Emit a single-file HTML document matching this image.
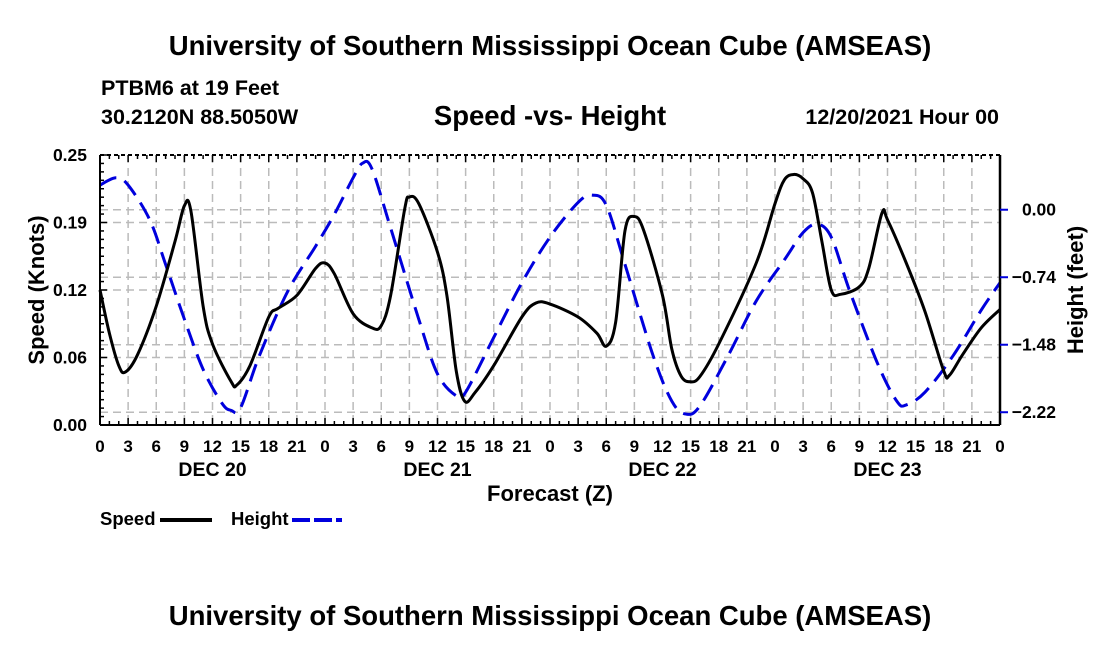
<!DOCTYPE html>
<html><head><meta charset="utf-8"><style>
body{margin:0;background:#fff;width:1100px;height:650px;overflow:hidden}
svg text{font-family:"Liberation Sans",Arial,sans-serif;font-weight:bold;fill:#000}
</style></head><body>
<svg id="c" width="1100" height="650">
<text x="550" y="55" font-size="27.5" text-anchor="middle">University of Southern Mississippi Ocean Cube (AMSEAS)</text>
<text x="101" y="95" font-size="21.5">PTBM6 at 19 Feet</text>
<text x="101" y="124" font-size="21.5">30.2120N  88.5050W</text>
<text x="550" y="125" font-size="27.5" text-anchor="middle">Speed -vs- Height</text>
<text x="999" y="124" font-size="21.5" text-anchor="end">12/20/2021 Hour 00</text>
<text x="550" y="625" font-size="27.5" text-anchor="middle">University of Southern Mississippi Ocean Cube (AMSEAS)</text>
<g id="plot"></g>
</svg>
<script>
const speedHours=[0,1,2,2.7,4,6,8,9,9.7,11,12,14,14.6,16,18,19,21,23,24,25,27,29,30,31,32.5,33,34,36,37,38,38.9,40,42,45,46.5,48,51,53,54,55,56,57,58,60,61,62,63,64,66,70,72,73,74,75,76,77,78,79,81,82,83.4,84,86,88,90,90.6,92,94,96];
const speedVals=[0.125,0.085,0.055,0.049,0.065,0.11,0.17,0.203,0.198,0.11,0.075,0.04,0.037,0.055,0.1,0.108,0.12,0.145,0.15,0.14,0.103,0.09,0.092,0.12,0.2,0.211,0.205,0.16,0.12,0.05,0.022,0.03,0.055,0.1,0.113,0.112,0.1,0.085,0.073,0.095,0.18,0.193,0.18,0.12,0.07,0.045,0.04,0.045,0.075,0.15,0.205,0.227,0.232,0.228,0.215,0.17,0.125,0.121,0.128,0.145,0.196,0.19,0.15,0.105,0.05,0.046,0.065,0.09,0.107];
const heightHours=[0,1.7,3,5.3,7,9,11,13,14,15,17,20,23,25,27,28,29,31,34,36,38,39,42,45,48,51,52.5,54,56,59,61,62.5,64,67,70,73,75,76.5,78,80,83,85,86,88,91,94,96];
const heightVals=[0.27,0.35,0.27,-0.11,-0.6,-1.2,-1.75,-2.12,-2.2,-2.17,-1.6,-0.9,-0.4,-0.05,0.35,0.51,0.45,-0.2,-1.2,-1.8,-2.04,-2.0,-1.4,-0.8,-0.3,0.08,0.16,0.05,-0.6,-1.6,-2.1,-2.24,-2.15,-1.6,-1.0,-0.55,-0.25,-0.16,-0.3,-0.9,-1.7,-2.1,-2.14,-2.0,-1.6,-1.1,-0.8];
const xTickLabels=["0","3","6","9","12","15","18","21"];
const dayLabels=["DEC 20","DEC 21","DEC 22","DEC 23"];
const speedTicks=[0,0.0625,0.125,0.1875,0.25];
const speedTickLabels=["0.00","0.06","0.12","0.19","0.25"];
const heightTicks=[0,-0.74,-1.48,-2.22];
const heightTickLabels=["0.00","-0.74","-1.48","-2.22"];

const X0=100,X1=1000,Y0=155,Y1=425;
const xs=h=>X0+h/96*(X1-X0);
const ys=v=>Y1-v/0.25*(Y1-Y0);
const yh=v=>Y0+(0.6-v)/2.96*(Y1-Y0);
const NS="http://www.w3.org/2000/svg";
const g=document.getElementById('plot');
function el(t,a,p){const e=document.createElementNS(NS,t);for(const k in a)e.setAttribute(k,a[k]);(p||g).appendChild(e);return e;}
const grid=el('g',{});


for(let h=3;h<96;h+=3){el('line',{x1:xs(h),x2:xs(h),y1:Y0,y2:Y1,stroke:'#bbb','stroke-width':1.5,'stroke-dasharray':'8,5'},grid);}
speedTicks.slice(1,4).forEach(v=>el('line',{x1:X0,x2:X1,y1:ys(v),y2:ys(v),stroke:'#bbb','stroke-width':1.5,'stroke-dasharray':'8,5'},grid));
heightTicks.forEach(v=>el('line',{x1:X0,x2:X1,y1:yh(v),y2:yh(v),stroke:'#bbb','stroke-width':1.5,'stroke-dasharray':'8,5'},grid));
function path(hs,vs,yf){const p=hs.map((h,i)=>[xs(h),yf(vs[i])]);let d='M'+p[0][0]+','+p[0][1];
for(let i=0;i<p.length-1;i++){const a=p[Math.max(0,i-1)],b=p[i],c=p[i+1],e=p[Math.min(p.length-1,i+2)];
d+=' C'+(b[0]+(c[0]-a[0])/6)+','+(b[1]+(c[1]-a[1])/6)+' '+(c[0]-(e[0]-b[0])/6)+','+(c[1]-(e[1]-b[1])/6)+' '+c[0]+','+c[1];}return d;}
const hl=el('path',{d:path(heightHours,heightVals,yh),fill:'none',stroke:'#0000dd','stroke-width':3,'stroke-dasharray':'18,9'});


const sl=el('path',{d:path(speedHours,speedVals,ys),fill:'none',stroke:'#000','stroke-width':3});


el('line',{x1:X0,x2:X1,y1:Y1,y2:Y1,stroke:'#000','stroke-width':2});
el('line',{x1:X0,x2:X1,y1:Y0,y2:Y0,stroke:'#000','stroke-width':2,'stroke-dasharray':'4,3'});
el('line',{x1:X0,x2:X0,y1:Y0,y2:Y1,stroke:'#000','stroke-width':2});
el('line',{x1:X1,x2:X1,y1:Y0,y2:Y1,stroke:'#000','stroke-width':2.5});
for(let h=0;h<=96;h++){const L=h%3==0?7:4;el('line',{x1:xs(h),x2:xs(h),y1:Y1,y2:Y1-L,stroke:'#000','stroke-width':1.5});el('line',{x1:xs(h),x2:xs(h),y1:Y0,y2:Y0+L,stroke:'#000','stroke-width':1.5});}
for(let d=0;d<=32;d++){const v=d*0.25/32;el('line',{x1:X0,x2:X0+(d%8==0?7:4),y1:ys(v),y2:ys(v),stroke:'#000','stroke-width':1.5});}
for(let d=0;d<4;d++)for(let k=0;k<8;k++){const h=d*24+k*3;const t=el('text',{x:xs(h),y:452,'font-size':17,'text-anchor':'middle'});t.textContent=xTickLabels[k];}
const t96=el('text',{x:xs(96),y:452,'font-size':17,'text-anchor':'middle'});t96.textContent="0";
dayLabels.forEach((s,i)=>{const t=el('text',{x:xs(i*24+12),y:476,'font-size':19.5,'text-anchor':'middle'});t.textContent=s;});
speedTicks.forEach((v,i)=>{const t=el('text',{x:87,y:ys(v)+6,'font-size':17.5,'text-anchor':'end'});t.textContent=speedTickLabels[i];});
heightTicks.forEach((v,i)=>{el('line',{x1:X1,x2:X1+8,y1:yh(v),y2:yh(v),stroke:'#0000dd','stroke-width':2});const t=el('text',{x:1056,y:yh(v)+6,'font-size':17.5,'text-anchor':'end'});t.textContent=heightTickLabels[i].replace('-','\u2212');});
const xt=el('text',{x:550,y:501,'font-size':22,'text-anchor':'middle'});xt.textContent="Forecast (Z)";
const yt=el('text',{x:0,y:0,'font-size':22,'text-anchor':'middle',transform:'translate(44,290) rotate(-90)'});yt.textContent="Speed (Knots)";
const yt2=el('text',{x:0,y:0,'font-size':22,'text-anchor':'middle',transform:'translate(1083,290) rotate(-90)'});yt2.textContent="Height (feet)";
const lg=el('g',{});
const l1=el('text',{x:100,y:525,'font-size':18.5},lg);l1.textContent="Speed";
el('line',{x1:160,x2:212,y1:520,y2:520,stroke:'#000','stroke-width':4},lg);
const l2=el('text',{x:231,y:525,'font-size':18.5},lg);l2.textContent="Height";
el('line',{x1:292,x2:342,y1:520,y2:520,stroke:'#0000dd','stroke-width':4,'stroke-dasharray':'18,4'},lg);
</script>
</body></html>
